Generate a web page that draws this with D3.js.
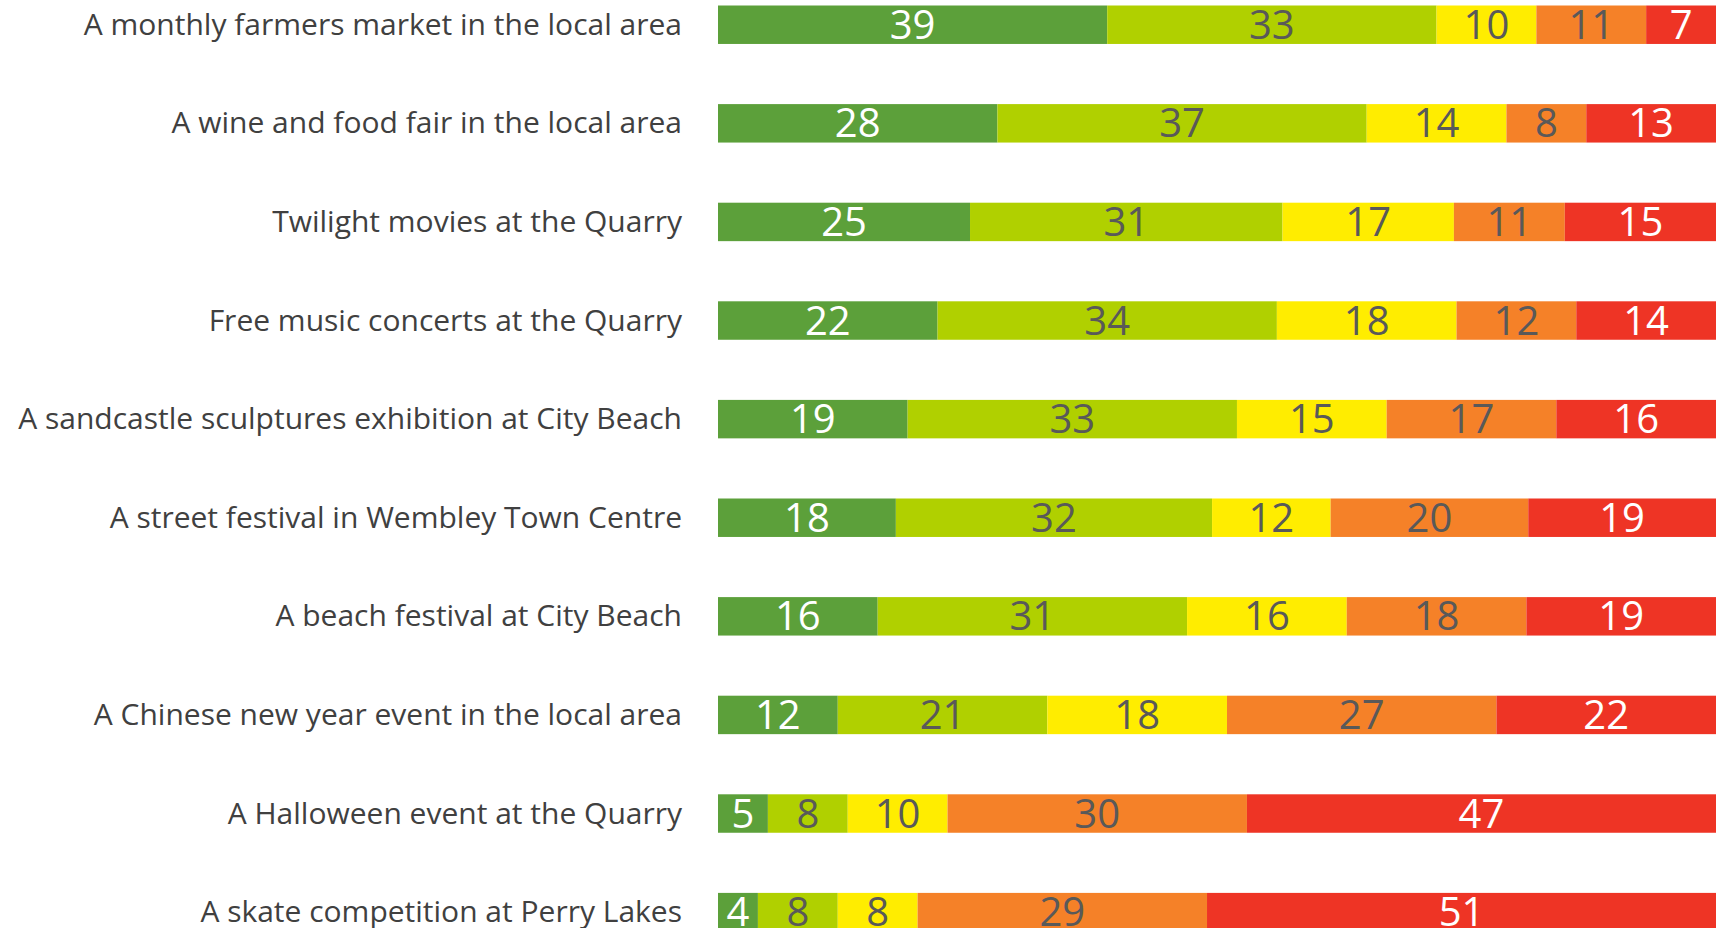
<!DOCTYPE html>
<html>
<head>
<meta charset="utf-8">
<script src="https://cdn.jsdelivr.net/npm/d3@7"></script>
<style>
  html, body { margin: 0; padding: 0; background: #fff; overflow: hidden; }
  svg { display: block; }
</style>
</head>
<body>
<svg id="chart"></svg>
<script>
// data
const events = [
  'A monthly farmers market in the local area',
  'A wine and food fair in the local area',
  'Twilight movies at the Quarry',
  'Free music concerts at the Quarry',
  'A sandcastle sculptures exhibition at City Beach',
  'A street festival in Wembley Town Centre',
  'A beach festival at City Beach',
  'A Chinese new year event in the local area',
  'A Halloween event at the Quarry',
  'A skate competition at Perry Lakes'
]
const veryLikely   = [39, 28, 25, 22, 19, 18, 16, 12, 5, 4]
const likely       = [33, 37, 31, 34, 33, 32, 31, 21, 8, 8]
const neutral      = [10, 14, 17, 18, 15, 12, 16, 18, 10, 8]
const unlikely     = [11, 8, 11, 12, 17, 20, 18, 27, 30, 29]
const veryUnlikely = [7, 13, 15, 14, 16, 19, 19, 22, 47, 51]

const seriesKeys = ['veryLikely', 'likely', 'neutral', 'unlikely', 'veryUnlikely']
const seriesVals = [veryLikely, likely, neutral, unlikely, veryUnlikely]
const fills = ['#5ca03a', '#b0d000', '#ffed00', '#f58128', '#ee3425']
const textColors = ['#ffffff', '#595959', '#595959', '#595959', '#ffffff']

const width = 1721
const height = 928
const margin = {top: 5.5, left: 718, right: 5}
const step = 98.6
const pad = 0.61

// normalise each row to 100%
const rows = events.map((name, i) => {
  const row = {name}
  const total = d3.sum(seriesVals, s => s[i])
  seriesKeys.forEach((k, j) => { row[k] = seriesVals[j][i] / total; row[k + '_raw'] = seriesVals[j][i] })
  return row
})

const stack = d3.stack().keys(seriesKeys)(rows)

const x = d3.scaleLinear().domain([0, 1]).range([margin.left, width - margin.right])
const y = d3.scaleBand().domain(events)
  .range([margin.top, margin.top + step * (events.length - pad)])
  .paddingInner(pad).paddingOuter(0)

const svg = d3.select('#chart')
  .attr('width', width)
  .attr('height', height)

const layers = svg.selectAll('g.layer')
  .data(stack)
  .enter()
  .append('g')
  .attr('class', 'layer')

layers.selectAll('rect')
  .data(d => d)
  .enter()
  .append('rect')
  .attr('x', d => x(d[0]))
  .attr('y', d => y(d.data.name))
  .attr('width', d => x(d[1]) - x(d[0]))
  .attr('height', y.bandwidth())
  .attr('fill', (d, i, nodes) => fills[seriesKeys.indexOf(d3.select(nodes[i].parentNode).datum().key)])

// value labels in the middle of each segment
layers.each(function(layer, j) {
  d3.select(this).selectAll('text')
    .data(layer)
    .enter()
    .append('text')
    .attr('x', d => (x(d[0]) + x(d[1])) / 2)
    .attr('y', d => y(d.data.name) + y.bandwidth() / 2 + 14)
    .attr('text-anchor', 'middle')
    .style('font-family', '"Open Sans", sans-serif')
    .style('font-size', '40px')
    .style('fill', textColors[j])
    .text(d => d.data[layer.key + '_raw'])
})

// category labels on the left
svg.append('g')
  .selectAll('text')
  .data(events)
  .enter()
  .append('text')
  .attr('x', 682)
  .attr('y', d => y(d) + y.bandwidth() / 2 + 10)
  .attr('text-anchor', 'end')
  .style('font-family', '"Open Sans", sans-serif')
  .style('font-size', '30px')
  .style('fill', '#404040')
  .text(d => d)
</script>
</body>
</html>
